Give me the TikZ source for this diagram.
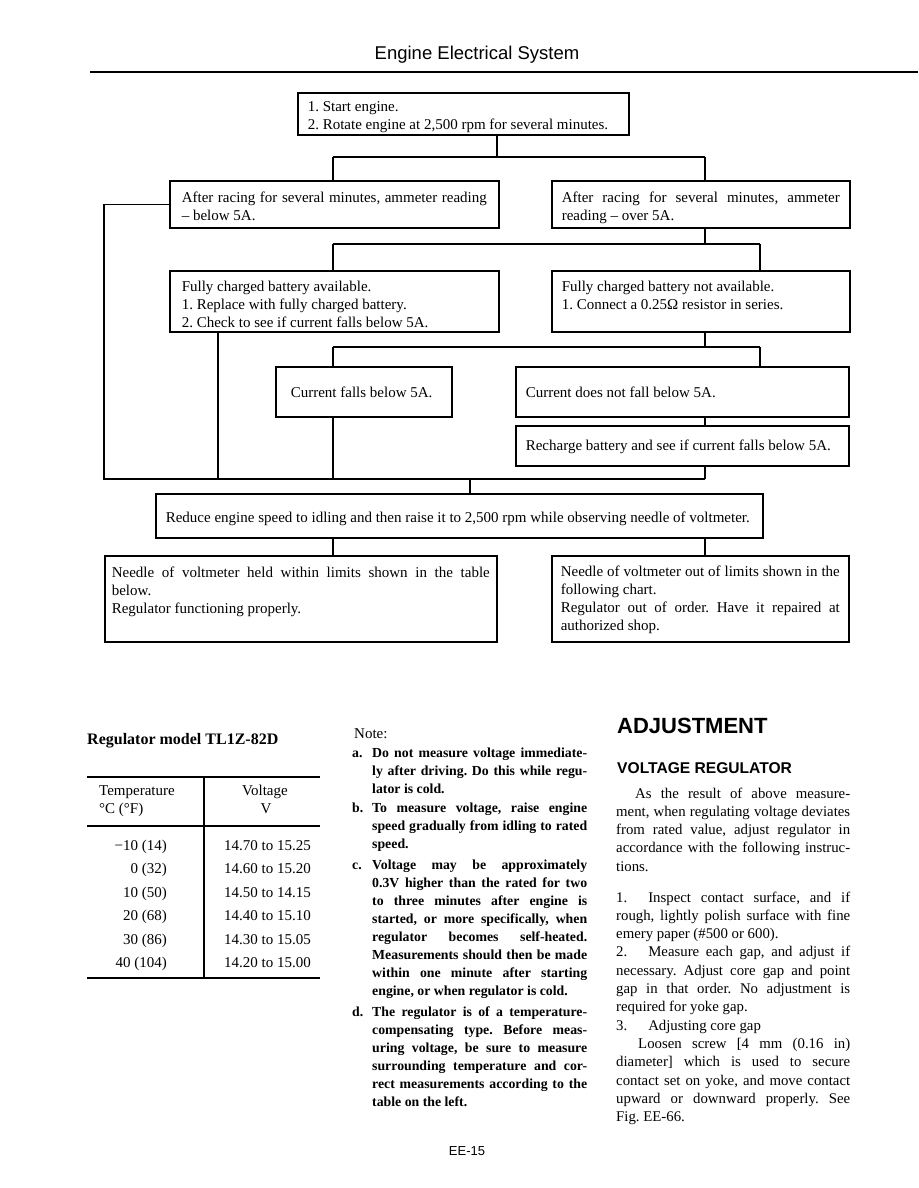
\documentclass[tikz,border=0pt]{standalone}
\usepackage{fontspec}
\setmainfont{Liberation Serif}
\newfontfamily\sansfont{Liberation Sans}
\usepackage{tikz}
\frenchspacing

\newcommand{\boxfont}{\fontsize{15}{18}\selectfont}
\newcommand{\notefont}{\bfseries\fontsize{13.8}{18}\selectfont}
\newcommand{\colfont}{\fontsize{14.8}{18.3}\selectfont}
\newcommand{\fl}[1]{\makebox[\linewidth][s]{#1}}
\newcommand{\boxtxt}[4]{\parbox[c][#2][t]{#1}{\vspace*{#3}\strut #4}}

\begin{document}
\begin{tikzpicture}[
  x=1pt, y=-1pt,
  box/.style={rectangle,draw,line width=1.6pt,anchor=north west,inner ysep=0pt,inner xsep=10pt,font=\boxfont},
  link/.style={line width=1.2pt},
  rule/.style={line width=1.8pt},
  cell/.style={font=\fontsize{15}{18}\selectfont,inner sep=0pt},
]
\useasboundingbox[fill=white] (0,0) rectangle (918,1188);

% Page head
\node[font=\sansfont\fontsize{18.5}{22}\selectfont,anchor=base] (pagehead) at (477,60) {Engine Electrical System};
\draw[rule] (90,72) -- (918,72);

% Check steps
\node[box] (start) at (297,92) {\boxtxt{311pt}{42pt}{5.9pt}{1. Start engine.\\2. Rotate engine at 2,500 rpm for several minutes.}};
\node[box,inner xsep=12pt] (below5) at (169,180) {\boxtxt{305pt}{47pt}{8.9pt}{\fl{After racing for several minutes, ammeter reading}\\– below 5A.}};
\node[box] (over5) at (551,180) {\boxtxt{278pt}{47pt}{8.9pt}{\fl{After racing for several minutes, ammeter}\\reading – over 5A.}};
\node[box,inner xsep=12pt] (avail) at (169,270) {\boxtxt{305pt}{61pt}{7.9pt}{Fully charged battery available.\\1. Replace with fully charged battery.\\2. Check to see if current falls below 5A.}};
\node[box] (notavail) at (551,270) {\boxtxt{278pt}{61pt}{7.9pt}{Fully charged battery not available.\\1. Connect a 0.25Ω resistor in series.}};
\node[box,inner xsep=15pt] (falls) at (275,366) {\boxtxt{146pt}{50pt}{17.9pt}{Current falls below 5A.}};
\node[box] (notfall) at (515,366) {\boxtxt{313pt}{50pt}{17.9pt}{Current does not fall below 5A.}};
\node[box] (recharge) at (515,425) {\boxtxt{313pt}{40pt}{11.9pt}{Recharge battery and see if current falls below 5A.}};
\node[box] (reduce) at (155,493) {\boxtxt{587pt}{44pt}{15.9pt}{Reduce engine speed to idling and then raise it to 2,500 rpm while observing needle of voltmeter.}};
\node[box,inner xsep=7pt] (within) at (104,555) {\boxtxt{378pt}{86pt}{8.9pt}{\fl{Needle of voltmeter held within limits shown in the table}\\below.\\Regulator functioning properly.}};
\node[box,inner xsep=9pt] (outlim) at (551,555) {\boxtxt{279pt}{86pt}{7.9pt}{\fl{Needle of voltmeter out of limits shown in the}\\following chart.\\\fl{Regulator out of order. Have it repaired at}\\authorized shop.}};

% Branches
\coordinate (j1) at (497,157);
\coordinate (j1l) at (333,157);
\coordinate (j1r) at (705,157);
\draw[link] (start.south -| j1) -- (j1);
\draw[link] (j1l) -- (j1r);
\draw[link] (j1l) -- (below5.north -| j1l);
\draw[link] (j1r) -- (over5.north -| j1r);

\coordinate (j2) at (705,244);
\coordinate (j2l) at (333,244);
\coordinate (j2r) at (760,244);
\draw[link] (over5.south -| j2) -- (j2);
\draw[link] (j2l) -- (j2r);
\draw[link] (j2l) -- (avail.north -| j2l);
\draw[link] (j2r) -- (notavail.north -| j2r);

\coordinate (j3) at (705,347);
\coordinate (j3l) at (333,347);
\coordinate (j3r) at (760,347);
\draw[link] (notavail.south -| j3) -- (j3);
\draw[link] (j3l) -- (j3r);
\draw[link] (j3l) -- (falls.north -| j3l);
\draw[link] (j3r) -- (notfall.north -| j3r);
\draw[link] (notfall.south -| j3) -- (recharge.north -| j3);

% Back to voltmeter check
\coordinate (back) at (104,479);
\coordinate (merge) at (705,479);
\coordinate (fromavail) at (218,479);
\coordinate (fromfalls) at (333,479);
\coordinate (toreduce) at (470,479);
\draw[link] (below5.west) -| (back) -- (merge);
\draw[link] (recharge.south -| merge) -- (merge);
\draw[link] (avail.south -| fromavail) -- (fromavail);
\draw[link] (falls.south -| fromfalls) -- (fromfalls);
\draw[link] (toreduce) -- (reduce.north -| toreduce);

\coordinate (k1) at (333,546);
\coordinate (k2) at (705,546);
\draw[link] (reduce.south -| k1) -- (within.north -| k1);
\draw[link] (reduce.south -| k2) -- (outlim.north -| k2);

% Regulator table
\node[font=\bfseries\fontsize{16}{19}\selectfont,anchor=base west,inner sep=0pt] (tabtitle) at (87,744) {Regulator model TL1Z-82D};
\draw[rule] (87,777) -- (320,777);
\draw[link] (87,826) -- (320,826);
\draw[rule] (87,978) -- (320,978);
\draw[link] (204,777) -- (204,978);
\node[cell,anchor=base west] (temphead) at (99,795) {Temperature};
\node[cell,anchor=base west] (tempunit) at (99,813) {°C (°F)};
\node[cell,anchor=base] (volthead) at (265,795) {Voltage};
\node[cell,anchor=base] (voltunit) at (266,813) {V};
\node[cell,anchor=base east] (ta) at (167,850) {−10 (14)};
\node[cell,anchor=base east] (tb) at (167,873.5) {0 (32)};
\node[cell,anchor=base east] (tc) at (167,897) {10 (50)};
\node[cell,anchor=base east] (td) at (167,920.5) {20 (68)};
\node[cell,anchor=base east] (te) at (167,944) {30 (86)};
\node[cell,anchor=base east] (tf) at (167,967.5) {40 (104)};
\node[cell,anchor=base west] (va) at (224,850) {14.70 to 15.25};
\node[cell,anchor=base west] (vb) at (224,873.5) {14.60 to 15.20};
\node[cell,anchor=base west] (vc) at (224,897) {14.50 to 14.15};
\node[cell,anchor=base west] (vd) at (224,920.5) {14.40 to 15.10};
\node[cell,anchor=base west] (ve) at (224,944) {14.30 to 15.05};
\node[cell,anchor=base west] (vf) at (224,967.5) {14.20 to 15.00};

% Notes
\node[cell,anchor=base west] (notehead) at (354,738) {Note:};
\node[font=\notefont,anchor=base west,inner sep=0pt] (notea) at (352,757) {\makebox[20pt][l]{a.}\parbox[t]{215pt}{\fl{Do not measure voltage immediate-}\\\fl{ly after driving. Do this while regu-}\\lator is cold.}};
\node[font=\notefont,anchor=base west,inner sep=0pt] (noteb) at (352,812) {\makebox[20pt][l]{b.}\parbox[t]{215pt}{\fl{To measure voltage, raise engine}\\\fl{speed gradually from idling to rated}\\speed.}};
\node[font=\notefont,anchor=base west,inner sep=0pt] (notec) at (352,869) {\makebox[20pt][l]{c.}\parbox[t]{215pt}{\fl{Voltage may be approximately}\\\fl{0.3V higher than the rated for two}\\\fl{to three minutes after engine is}\\\fl{started, or more specifically, when}\\\fl{regulator becomes self-heated.}\\\fl{Measurements should then be made}\\\fl{within one minute after starting}\\engine, or when regulator is cold.}};
\node[font=\notefont,anchor=base west,inner sep=0pt] (noted) at (352,1016) {\makebox[20pt][l]{d.}\parbox[t]{215pt}{\fl{The regulator is of a temperature-}\\\fl{compensating type. Before meas-}\\\fl{uring voltage, be sure to measure}\\\fl{surrounding temperature and cor-}\\\fl{rect measurements according to the}\\table on the left.}};

% Adjustment column
\node[font=\sansfont\bfseries\fontsize{22}{26}\selectfont,anchor=base west,inner sep=0pt] (adjhead) at (617,733) {ADJUSTMENT};
\node[font=\sansfont\bfseries\fontsize{15.6}{19}\selectfont,anchor=base west,inner sep=0pt] (reghead) at (617,773.5) {VOLTAGE REGULATOR};
\node[font=\colfont,anchor=base west,inner sep=0pt] (adjtext) at (616,798) {\parbox[t]{234pt}{\fl{\hspace*{19pt}As the result of above measure-}\\\fl{ment, when regulating voltage deviates}\\\fl{from rated value, adjust regulator in}\\\fl{accordance with the following instruc-}\\tions.}};
\node[font=\colfont,anchor=base west,inner sep=0pt] (adjsteps) at (616,902) {\parbox[t]{234pt}{\fl{1.\hspace*{21pt}Inspect contact surface, and if}\\\fl{rough, lightly polish surface with fine}\\emery paper (\#500 or 600).\\\fl{2.\hspace*{21pt}Measure each gap, and adjust if}\\\fl{necessary. Adjust core gap and point}\\\fl{gap in that order. No adjustment is}\\required for yoke gap.\\3.\hspace*{21pt}Adjusting core gap\\\fl{\hspace*{22pt}Loosen screw [4 mm (0.16 in)}\\\fl{diameter] which is used to secure}\\\fl{contact set on yoke, and move contact}\\\fl{upward or downward properly. See}\\Fig. EE-66.}};

% Page number
\node[font=\sansfont\fontsize{13}{16}\selectfont,anchor=base] (pageno) at (467,1155) {EE-15};

\end{tikzpicture}
\end{document}
